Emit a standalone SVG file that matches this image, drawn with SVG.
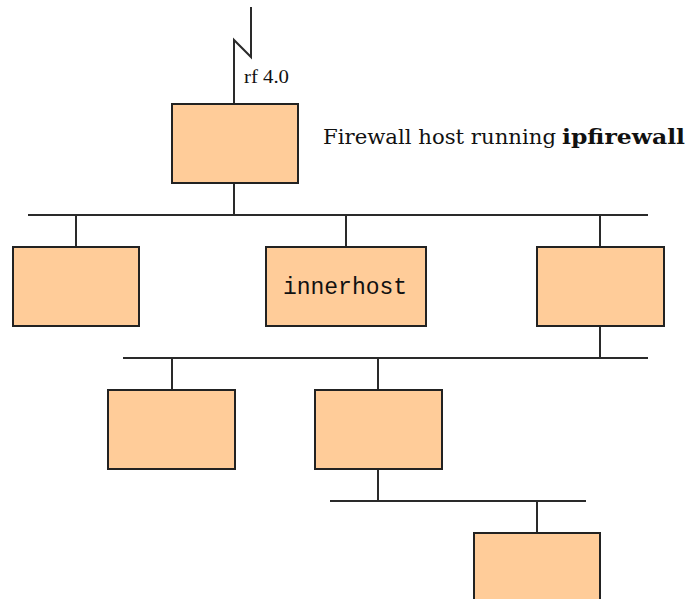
<svg xmlns="http://www.w3.org/2000/svg" width="688" height="599" viewBox="0 0 688 599">
  <style>
    .host { fill: #FFCC99; stroke: #222222; stroke-width: 2; }
    .wire { fill: none; stroke: #2a2a2a; stroke-width: 2; stroke-linecap: butt; stroke-linejoin: miter; }
    .serif { font-family: "DejaVu Serif", "Liberation Serif", serif; fill: #111111; }
    .mono { font-family: "Liberation Mono", "DejaVu Sans Mono", monospace; fill: #111111; }
  </style>
  <rect width="688" height="599" fill="#ffffff"/>

  <!-- network segments and drops -->
  <g id="connectors">
    <!-- uplink with radio break -->
    <path class="wire" d="M251 7 V57 L234 40 V104"/>
    <path class="wire" d="M234 183 V215"/>
    <!-- first LAN -->
    <path class="wire" d="M28 215 H648"/>
    <path class="wire" d="M76 215 V247"/>
    <path class="wire" d="M346 215 V247"/>
    <path class="wire" d="M600 215 V247"/>
    <!-- second LAN -->
    <path class="wire" d="M600 326 V358"/>
    <path class="wire" d="M123 358 H648"/>
    <path class="wire" d="M172 358 V390"/>
    <path class="wire" d="M378 358 V390"/>
    <!-- third LAN -->
    <path class="wire" d="M378 469 V501"/>
    <path class="wire" d="M330 501 H586"/>
    <path class="wire" d="M537 501 V533"/>
  </g>

  <g id="uplink-label">
    <text x="244" y="83" font-size="19" textLength="45" lengthAdjust="spacingAndGlyphs" font-family="Liberation Serif, serif" fill="#111111">rf 4.0</text>
  </g>

  <g id="firewall">
    <rect class="host" x="172" y="104" width="126" height="79"/>
  </g>
  <g id="firewall-label">
    <text class="serif" x="323" y="144" font-size="20" textLength="233" lengthAdjust="spacingAndGlyphs">Firewall host running</text>
    <text class="serif" x="562" y="144" font-size="20" font-weight="bold" textLength="123" lengthAdjust="spacingAndGlyphs">ipfirewall</text>
  </g>

  <g id="host-left">
    <rect class="host" x="13" y="247" width="126" height="79"/>
  </g>
  <g id="innerhost">
    <rect class="host" x="266" y="247" width="160" height="79"/>
    <text class="mono" x="345" y="294" font-size="23" text-anchor="middle">innerhost</text>
  </g>
  <g id="router-right">
    <rect class="host" x="537" y="247" width="127" height="79"/>
  </g>

  <g id="host-lan2-left">
    <rect class="host" x="108" y="390" width="127" height="79"/>
  </g>
  <g id="router-lan2">
    <rect class="host" x="315" y="390" width="127" height="79"/>
  </g>

  <g id="host-lan3">
    <rect class="host" x="474" y="533" width="126" height="79"/>
  </g>
</svg>
